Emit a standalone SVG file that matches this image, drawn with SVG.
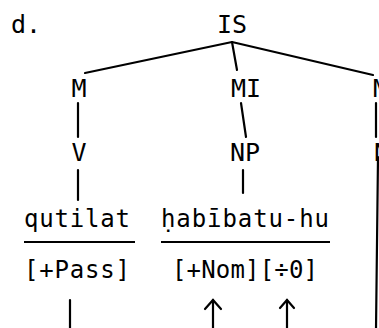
<svg xmlns="http://www.w3.org/2000/svg" width="379" height="328" viewBox="0 0 379 328">
  <style>
    .lbl { font-family: "DejaVu Sans Mono", "Liberation Mono", monospace; font-size: 25px; fill: #000; }
    .word { font-family: "DejaVu Sans Mono", "Liberation Mono", monospace; font-size: 24px; fill: #000; }
    .edge { stroke: #000; stroke-width: 2.2; fill: none; stroke-linecap: round; }
    .rule { stroke: #000; stroke-width: 1.8; fill: none; }
  </style>
  <rect width="379" height="328" fill="#fff"/>

  <text class="lbl" x="11" y="33">d.</text>

  <g id="node-IS"><text class="lbl" x="232" y="33" text-anchor="middle">IS</text></g>
  <g id="node-M"><text class="lbl" x="79" y="97" text-anchor="middle">M</text></g>
  <g id="node-MI"><text class="lbl" x="246" y="97" text-anchor="middle">MI</text></g>
  <g id="node-M-right"><text class="lbl" x="373" y="97">M</text></g>
  <g id="node-V"><text class="lbl" x="79" y="161" text-anchor="middle">V</text></g>
  <g id="node-NP"><text class="lbl" x="245" y="161" text-anchor="middle">NP</text></g>
  <g id="node-N-right"><text class="lbl" x="374" y="161">N</text></g>

  <g id="word-qutilat">
    <text class="word" x="24" y="227" textLength="106" lengthAdjust="spacing">qutilat</text>
    <line class="rule" x1="24" y1="242" x2="135" y2="242"/>
  </g>
  <g id="word-habibatu-hu">
    <text class="word" x="161" y="227" textLength="168" lengthAdjust="spacing">ḥabībatu-hu</text>
    <line class="rule" x1="161" y1="242" x2="330" y2="242"/>
  </g>
  <g id="feat-pass"><text class="word" x="24" y="278" textLength="106" lengthAdjust="spacing">[+Pass]</text></g>
  <g id="feat-nom"><text class="word" x="172" y="278" textLength="146" lengthAdjust="spacing">[+Nom][÷0]</text></g>

  <g id="connectors">
    <line class="edge" x1="232" y1="42" x2="85" y2="73"/>
    <line class="edge" x1="232" y1="42" x2="373" y2="75"/>
    <line class="edge" x1="232" y1="42" x2="237" y2="70"/>
    <line class="edge" x1="78" y1="103" x2="78" y2="137"/>
    <line class="edge" x1="241" y1="103" x2="246" y2="137"/>
    <line class="edge" x1="376" y1="103" x2="376" y2="137"/>
    <line class="edge" x1="78" y1="170" x2="78" y2="200"/>
    <line class="edge" x1="243" y1="170" x2="243" y2="193"/>
    <line class="edge" x1="378" y1="157" x2="376" y2="330"/>
    <line class="edge" x1="70" y1="300" x2="70" y2="330"/>
    <line class="edge" x1="213" y1="300" x2="213" y2="330"/>
    <polyline class="edge" points="205,309 213,300 221,309"/>
    <line class="edge" x1="287" y1="300" x2="287" y2="330"/>
    <polyline class="edge" points="280,308 287,300 294,308"/>
  </g>
</svg>
